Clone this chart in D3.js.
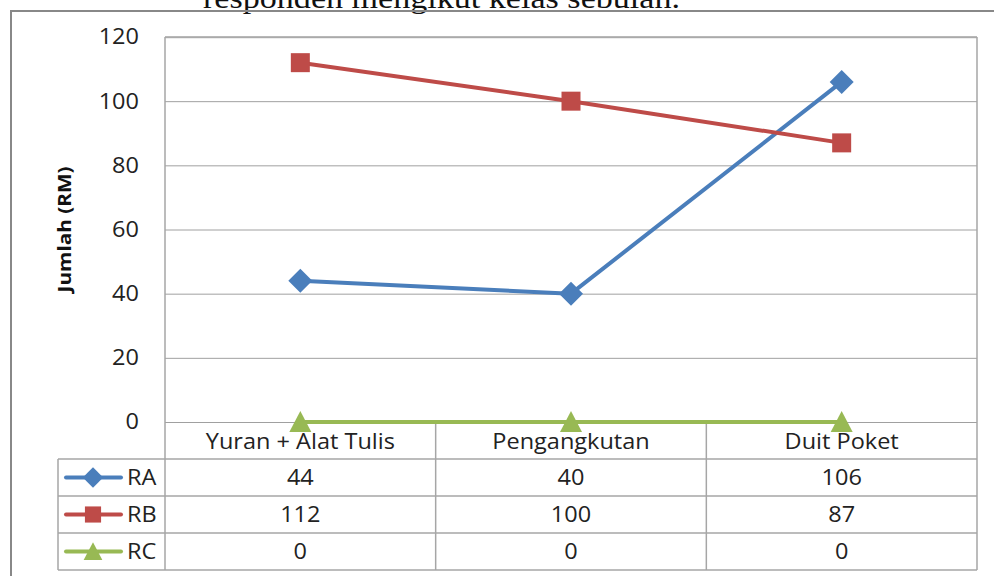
<!DOCTYPE html>
<html>
<head>
<meta charset="utf-8">
<script src="https://cdn.jsdelivr.net/npm/d3@7"></script>
<style>
  html, body { margin: 0; padding: 0; background: #fff; }
  svg { display: block; }
</style>
</head>
<body>
<svg id="chart" width="994" height="576"></svg>
<script>
// ---- data ----
const categories = ["Yuran + Alat Tulis", "Pengangkutan", "Duit Poket"];
const seriesNames = ["RA", "RB", "RC"];
const RA = [44, 40, 106];
const RB = [112, 100, 87];
const RC = [0, 0, 0];
const yTicks = [0, 20, 40, 60, 80, 100, 120];
const titleText = "responden mengikut kelas sebulan.";
const yTitle = "Jumlah (RM)";

const seriesValues = [RA, RB, RC];
const colors = ["#4A7EBB", "#BE4B48", "#98B954"];
const shapes = ["diamond", "square", "triangle"];

// ---- layout ----
const plotL = 165, plotR = 977, plotT = 37, plotB = 422;
const headerH = 37, rowH = 37, legendL = 58;
const font = "'Open Sans', sans-serif";
const stretch = 1.12;

const svg = d3.select("#chart");

const x = d3.scaleBand().domain(categories).range([plotL, plotR]);
const y = d3.scaleLinear().domain([0, 120]).range([plotB, plotT]);

function label(parent, tx, ty, txt, anchor, size, weight) {
  return parent.append("text")
    .attr("transform", `translate(${tx},${ty}) scale(${stretch},1)`)
    .attr("dy", "0.35em").attr("text-anchor", anchor)
    .style("font-family", font).style("font-size", size + "px")
    .style("font-weight", weight || "normal").attr("fill", "#222")
    .text(txt);
}

// title (cut off at top, as in the source)
svg.append("text")
  .attr("x", 203).attr("y", 8)
  .attr("textLength", 477).attr("lengthAdjust", "spacingAndGlyphs")
  .style("font-family", "'Liberation Serif', 'Times New Roman', serif")
  .style("font-size", "30px").attr("fill", "#111")
  .text(titleText);

// outer frame
svg.append("path")
  .attr("d", `M11,576 L11,11 L994,11`)
  .attr("fill", "none").attr("stroke", "#888").attr("stroke-width", 2);

// gridlines
const grid = svg.append("g")
  .attr("transform", `translate(${plotL},0)`)
  .call(d3.axisLeft(y).tickValues(yTicks).tickSize(-(plotR - plotL)).tickFormat(""));
grid.select(".domain").remove();
grid.selectAll(".tick line").attr("stroke", "#a0a0a0").attr("stroke-width", 1);
grid.selectAll(".tick").filter(d => d === 120).select("line").attr("stroke", "#b8b8b8").attr("stroke-width", 1.5);

// y tick labels
const yLab = svg.append("g");
yTicks.forEach(t => label(yLab, 139, y(t), y.tickFormat()(t), "end", 21));

// y title
svg.append("text")
  .attr("transform", `translate(71,${(plotT + plotB) / 2}) rotate(-90) scale(${stretch},1)`)
  .attr("text-anchor", "middle")
  .style("font-family", font).style("font-size", "18.5px").style("font-weight", "bold")
  .attr("fill", "#111")
  .text(yTitle);

// ---- data table ----
const tableTop = plotB;
const rowsTop = tableTop + headerH;
const tableBottom = rowsTop + rowH * seriesNames.length;
const tbl = svg.append("g").attr("stroke", "#a6a6a6").attr("stroke-width", 1.5).attr("fill", "none");

tbl.append("line").attr("x1", plotL).attr("x2", plotL).attr("y1", plotT).attr("y2", tableBottom);
categories.forEach(c => {
  const xr = x(c) + x.bandwidth();
  tbl.append("line").attr("x1", xr).attr("x2", xr)
    .attr("y1", xr >= plotR - 1 ? plotT : tableTop).attr("y2", tableBottom);
});
tbl.append("line").attr("x1", legendL).attr("x2", legendL).attr("y1", rowsTop).attr("y2", tableBottom);
for (let i = 0; i <= seriesNames.length; i++) {
  const yy = rowsTop + i * rowH;
  tbl.append("line").attr("x1", legendL).attr("x2", plotR).attr("y1", yy).attr("y2", yy);
}
tbl.append("line").attr("x1", plotL).attr("x2", plotR).attr("y1", plotT).attr("y2", plotT);

// header text
const hdr = svg.append("g");
categories.forEach(c => label(hdr, x(c) + x.bandwidth() / 2, tableTop + headerH / 2 + 1, c, "middle", 21));

// symbols
function symbolPath(shape) {
  if (shape === "diamond") return "M0,-12 L12,0 L0,12 L-12,0 Z";
  if (shape === "square") return "M-9.5,-9.5 H9.5 V9.5 H-9.5 Z";
  return "M0,-11 L11,10 L-11,10 Z";
}

// rows
seriesNames.forEach((name, si) => {
  const cy = rowsTop + si * rowH + rowH / 2;
  const g = svg.append("g");
  g.append("line").attr("x1", 66).attr("x2", 121).attr("y1", cy).attr("y2", cy)
    .attr("stroke", colors[si]).attr("stroke-width", 4).attr("stroke-linecap", "round");
  g.append("path").attr("d", symbolPath(shapes[si]))
    .attr("transform", `translate(93,${cy}) scale(0.85)`)
    .attr("fill", colors[si]);
  label(g, 127, cy, name, "start", 21);
  seriesValues[si].forEach((v, i) =>
    label(g, x(categories[i]) + x.bandwidth() / 2, cy, v, "middle", 21));
});

// ---- lines & markers ----
const line = d3.line()
  .x((d, i) => x(categories[i]) + x.bandwidth() / 2)
  .y(d => y(d));

seriesValues.forEach((vals, si) => {
  svg.append("path").datum(vals)
    .attr("d", line)
    .attr("fill", "none").attr("stroke", colors[si]).attr("stroke-width", 4)
    .attr("stroke-linejoin", "round").attr("stroke-linecap", "round");
});
seriesValues.forEach((vals, si) => {
  svg.append("g").selectAll("path").data(vals).join("path")
    .attr("d", symbolPath(shapes[si]))
    .attr("transform", (d, i) => `translate(${x(categories[i]) + x.bandwidth() / 2},${y(d)})`)
    .attr("fill", colors[si]);
});
</script>
</body>
</html>
